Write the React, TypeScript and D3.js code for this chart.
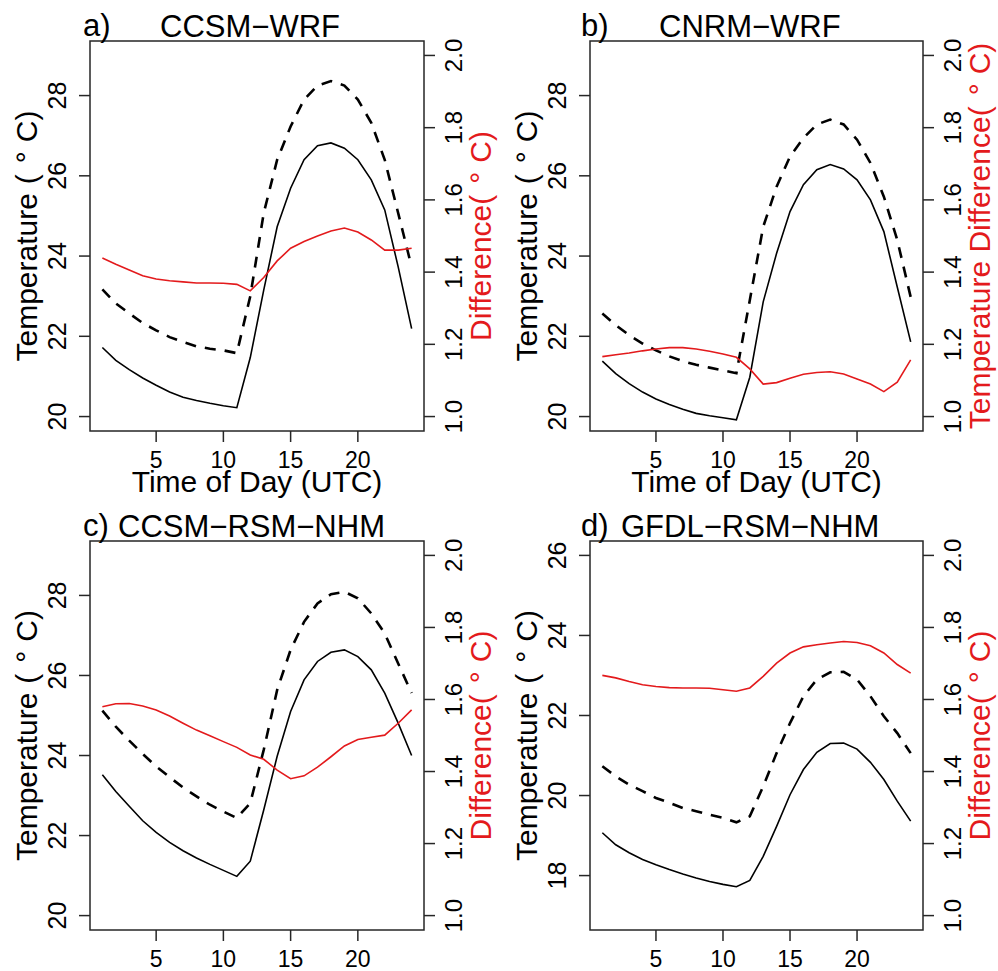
import React from "react";
import * as d3 from "d3";

const hours = [1, 2, 3, 4, 5, 6, 7, 8, 9, 10, 11, 12, 13, 14, 15, 16, 17, 18, 19, 20, 21, 22, 23, 24];

const xTicks = [5, 10, 15, 20];
const diffTicks = [1.0, 1.2, 1.4, 1.6, 1.8, 2.0];
const tempTicksABC = [20, 22, 24, 26, 28];
const tempTicksD = [18, 20, 22, 24, 26];

const aSolid = [21.72, 21.40, 21.17, 20.96, 20.78, 20.61, 20.48, 20.40, 20.33, 20.27, 20.22, 21.47, 23.15, 24.73, 25.69, 26.40, 26.75, 26.82, 26.69, 26.40, 25.90, 25.15, 23.73, 22.19];
const aDashed = [23.17, 22.82, 22.57, 22.33, 22.15, 21.98, 21.86, 21.75, 21.69, 21.65, 21.58, 23.0, 25.07, 26.4, 27.23, 27.9, 28.25, 28.36, 28.25, 27.9, 27.32, 26.4, 25.07, 23.73];
const aDiff = [1.439, 1.422, 1.406, 1.390, 1.381, 1.376, 1.373, 1.370, 1.370, 1.369, 1.366, 1.348, 1.385, 1.431, 1.466, 1.485, 1.500, 1.514, 1.522, 1.511, 1.489, 1.461, 1.461, 1.466];

const bSolid = [21.38, 21.07, 20.82, 20.61, 20.44, 20.30, 20.18, 20.08, 20.02, 19.97, 19.92, 20.98, 22.86, 24.07, 25.11, 25.78, 26.15, 26.28, 26.17, 25.9, 25.4, 24.61, 23.23, 21.86];
const bDashed = [22.57, 22.28, 22.03, 21.82, 21.65, 21.5, 21.38, 21.29, 21.22, 21.15, 21.08, 22.9, 24.73, 25.73, 26.48, 26.94, 27.28, 27.4, 27.28, 26.9, 26.32, 25.48, 24.4, 22.98];
const bDiff = [1.166, 1.171, 1.176, 1.182, 1.187, 1.191, 1.191, 1.187, 1.181, 1.173, 1.164, 1.132, 1.090, 1.094, 1.106, 1.117, 1.122, 1.124, 1.118, 1.104, 1.090, 1.069, 1.095, 1.157];

const cSolid = [23.52, 23.10, 22.73, 22.37, 22.08, 21.83, 21.62, 21.44, 21.28, 21.13, 20.98, 21.36, 22.64, 23.98, 25.10, 25.89, 26.35, 26.58, 26.64, 26.47, 26.14, 25.56, 24.81, 24.0];
const cDashed = [25.12, 24.72, 24.37, 24.04, 23.73, 23.46, 23.2, 22.98, 22.77, 22.6, 22.44, 22.81, 24.14, 25.64, 26.64, 27.34, 27.8, 28.03, 28.09, 27.93, 27.55, 27.05, 26.3, 25.56];
const cDiff = [1.580, 1.588, 1.589, 1.582, 1.571, 1.554, 1.534, 1.515, 1.499, 1.483, 1.467, 1.446, 1.434, 1.404, 1.380, 1.388, 1.412, 1.441, 1.471, 1.489, 1.495, 1.501, 1.534, 1.571];

const dSolid = [19.07, 18.77, 18.57, 18.40, 18.27, 18.15, 18.04, 17.94, 17.85, 17.78, 17.72, 17.88, 18.48, 19.23, 20.02, 20.65, 21.08, 21.30, 21.31, 21.16, 20.83, 20.40, 19.86, 19.36];
const dDashed = [20.73, 20.48, 20.27, 20.11, 19.94, 19.82, 19.69, 19.61, 19.52, 19.44, 19.33, 19.48, 20.23, 21.06, 21.81, 22.48, 22.90, 23.08, 23.09, 22.90, 22.48, 21.98, 21.56, 21.06];
const dDiff = [1.667, 1.660, 1.650, 1.641, 1.636, 1.633, 1.632, 1.632, 1.631, 1.627, 1.623, 1.632, 1.664, 1.701, 1.729, 1.746, 1.752, 1.757, 1.761, 1.758, 1.749, 1.729, 1.697, 1.673];

const FONT = "'Liberation Sans', Arial, Helvetica, sans-serif";
const RED = "#e31a1c";
const AXIS = "#262626";

type PanelProps = {
  box: { x0: number; x1: number; y0: number; y1: number };
  letter: string;
  title: string;
  titleX: number;
  letterX: number;
  tempDomain: [number, number];
  tempTicks: number[];
  solid: number[];
  dashed: number[];
  diff: number[];
  rightLabelPrefix: string;
  showXTitle: boolean;
};

function DegLabel({ prefix, gap }: { prefix: string; gap: number }) {
  return (
    <>
      {prefix}
      <tspan dx={gap}>(</tspan>
      <tspan dx={11}>°</tspan>
      <tspan dx={9}>C)</tspan>
    </>
  );
}

function Panel(p: PanelProps) {
  const { box } = p;
  const x = d3.scaleLinear().domain([1 - 0.92, 24 + 0.92]).range([box.x0, box.x1]);
  const yT = d3.scaleLinear().domain(p.tempDomain).range([box.y1, box.y0]);
  const yD = d3.scaleLinear().domain([0.96, 2.04]).range([box.y1, box.y0]);
  const lineT = d3
    .line<number>()
    .x((_, i) => x(hours[i]))
    .y((d) => yT(d));
  const lineD = d3
    .line<number>()
    .x((_, i) => x(hours[i]))
    .y((d) => yD(d));
  const cy = (box.y0 + box.y1) / 2;
  const cx = (box.x0 + box.x1) / 2;
  const tick = 11;
  return (
    <g>
      <defs>
        <clipPath id={"clip" + p.letter.charAt(0)}>
          <rect x={box.x0} y={box.y0} width={box.x1 - box.x0} height={box.y1 - box.y0} />
        </clipPath>
      </defs>
      <g clipPath={`url(#clip${p.letter.charAt(0)})`}>
        <path d={lineT(p.solid) || ""} fill="none" stroke="#000" strokeWidth={1.6} />
        <path d={lineT(p.dashed) || ""} fill="none" stroke="#000" strokeWidth={2.6} strokeDasharray="11 9" />
        <path d={lineD(p.diff) || ""} fill="none" stroke={RED} strokeWidth={1.6} />
      </g>
      <rect x={box.x0} y={box.y0} width={box.x1 - box.x0} height={box.y1 - box.y0} fill="none" stroke={AXIS} strokeWidth={1.5} />
      {xTicks.map((t) => (
        <g key={"xt" + t}>
          <line x1={x(t)} x2={x(t)} y1={box.y1} y2={box.y1 + tick} stroke={AXIS} strokeWidth={1.5} />
          <text x={x(t)} y={box.y1 + 37} textAnchor="middle" fontSize={23} fontFamily={FONT} fill="#000">
            {t}
          </text>
        </g>
      ))}
      {p.tempTicks.map((t) => (
        <g key={"yt" + t}>
          <line x1={box.x0 - tick} x2={box.x0} y1={yT(t)} y2={yT(t)} stroke={AXIS} strokeWidth={1.5} />
          <text
            transform={`translate(${box.x0 - 24},${yT(t)}) rotate(-90)`}
            textAnchor="middle"
            fontSize={25}
            fontFamily={FONT}
            fill="#000"
          >
            {t}
          </text>
        </g>
      ))}
      {diffTicks.map((t) => (
        <g key={"dt" + t}>
          <line x1={box.x1} x2={box.x1 + tick} y1={yD(t)} y2={yD(t)} stroke={AXIS} strokeWidth={1.5} />
          <text
            transform={`translate(${box.x1 + 38},${yD(t)}) rotate(-90)`}
            textAnchor="middle"
            fontSize={24}
            fontFamily={FONT}
            fill="#000"
          >
            {t.toFixed(1)}
          </text>
        </g>
      ))}
      <text
        transform={`translate(${box.x0 - 53},${cy}) rotate(-90)`}
        textAnchor="middle"
        fontSize={30}
        fontFamily={FONT}
        fill="#000"
      >
        <DegLabel prefix="Temperature" gap={9} />
      </text>
      <text
        transform={`translate(${box.x1 + 67},${cy}) rotate(-90)`}
        textAnchor="middle"
        fontSize={30}
        fontFamily={FONT}
        fill={RED}
      >
        <DegLabel prefix={p.rightLabelPrefix} gap={0} />
      </text>
      {p.showXTitle && (
        <text x={cx} y={box.y1 + 61} textAnchor="middle" fontSize={30} fontFamily={FONT} fill="#000">
          Time of Day (UTC)
        </text>
      )}
      <text x={p.letterX} y={box.y0 - 5} fontSize={31} fontFamily={FONT} fill="#000">
        {p.letter}
      </text>
      <text x={p.titleX} y={box.y0 - 4} fontSize={31} fontFamily={FONT} fill="#000">
        {p.title}
      </text>
    </g>
  );
}

export default function App() {
  const tempABC: [number, number] = [19.64, 29.36];
  const tempD: [number, number] = [16.64, 26.36];
  return (
    <svg width={998} height={971} style={{ position: "absolute", left: 0, top: 0, background: "#fff" }}>
      <rect x={0} y={0} width={998} height={971} fill="#fff" />
      <Panel
        box={{ x0: 90, x1: 424, y0: 41, y1: 431 }}
        letter="a)"
        letterX={83}
        title="CCSM−WRF"
        titleX={160}
        tempDomain={tempABC}
        tempTicks={tempTicksABC}
        solid={aSolid}
        dashed={aDashed}
        diff={aDiff}
        rightLabelPrefix="Difference"
        showXTitle={true}
      />
      <Panel
        box={{ x0: 590, x1: 923, y0: 41, y1: 431 }}
        letter="b)"
        letterX={581}
        title="CNRM−WRF"
        titleX={659}
        tempDomain={tempABC}
        tempTicks={tempTicksABC}
        solid={bSolid}
        dashed={bDashed}
        diff={bDiff}
        rightLabelPrefix="Temperature Difference"
        showXTitle={true}
      />
      <Panel
        box={{ x0: 90, x1: 424, y0: 541, y1: 930 }}
        letter="c)"
        letterX={83}
        title="CCSM−RSM−NHM"
        titleX={118}
        tempDomain={tempABC}
        tempTicks={tempTicksABC}
        solid={cSolid}
        dashed={cDashed}
        diff={cDiff}
        rightLabelPrefix="Difference"
        showXTitle={false}
      />
      <Panel
        box={{ x0: 590, x1: 923, y0: 541, y1: 930 }}
        letter="d)"
        letterX={581}
        title="GFDL−RSM−NHM"
        titleX={621}
        tempDomain={tempD}
        tempTicks={tempTicksD}
        solid={dSolid}
        dashed={dDashed}
        diff={dDiff}
        rightLabelPrefix="Difference"
        showXTitle={false}
      />
    </svg>
  );
}
